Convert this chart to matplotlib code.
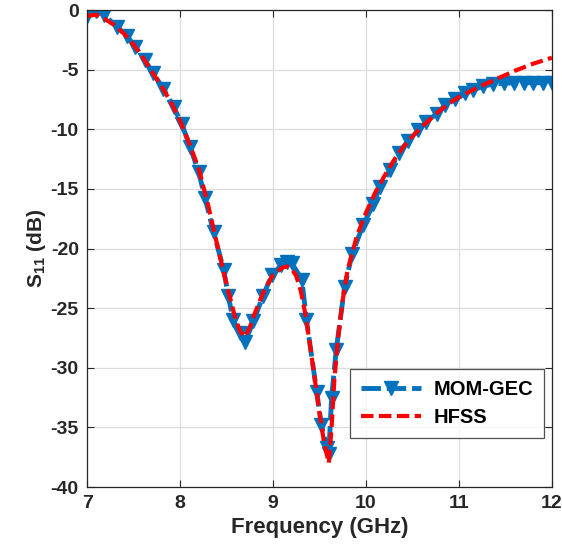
import matplotlib
matplotlib.use('Agg')
import matplotlib.pyplot as plt
import numpy as np

plt.rcParams['font.family'] = ['Liberation Sans', 'DejaVu Sans']
plt.rcParams['font.weight'] = 'bold'
plt.rcParams['axes.unicode_minus'] = False
plt.rcParams['mathtext.fontset'] = 'custom'
plt.rcParams['mathtext.rm'] = 'Liberation Sans:bold'
plt.rcParams['mathtext.bf'] = 'Liberation Sans:bold'
plt.rcParams['mathtext.it'] = 'Liberation Sans:bold'

## data
f_mom = [7.0, 7.1, 7.18, 7.32, 7.43, 7.52, 7.62, 7.71, 7.82, 7.93, 8.02, 8.11,
         8.20, 8.27, 8.36, 8.47, 8.52, 8.57, 8.65, 8.70, 8.79, 8.89, 8.99, 9.09,
         9.15, 9.20, 9.31, 9.36, 9.47, 9.52, 9.58, 9.60, 9.63, 9.68, 9.77, 9.85,
         9.97, 10.08, 10.15, 10.26, 10.35, 10.45, 10.56, 10.65, 10.76, 10.85,
         10.96, 11.07, 11.15, 11.26, 11.37, 11.48, 11.59, 11.70, 11.80, 11.90, 12.0]
s_mom = [-0.5, -0.1, -0.4, -1.4, -2.2, -3.1, -4.2, -5.3, -6.6, -8.1, -9.6, -11.5,
         -13.6, -15.8, -18.6, -21.8, -24.0, -26.0, -27.1, -27.8, -26.1, -24.0, -22.2, -21.4,
         -21.1, -21.2, -22.6, -26.0, -32.0, -34.8, -36.7, -37.2, -32.5, -28.5, -23.2, -20.5,
         -18.0, -16.3, -14.8, -13.4, -12.0, -11.0, -10.1, -9.4, -8.7, -8.0,
         -7.5, -7.0, -6.7, -6.4, -6.2, -6.15, -6.1, -6.1, -6.1, -6.1, -6.1]

f_hfss = [7.0, 7.1, 7.2, 7.3, 7.4, 7.5, 7.6, 7.7, 7.8, 7.9, 8.0, 8.1, 8.2, 8.3,
          8.4, 8.5, 8.6, 8.65, 8.7, 8.75, 8.8, 8.9, 9.0, 9.1, 9.15, 9.2, 9.25,
          9.3, 9.35, 9.4, 9.45, 9.5, 9.55, 9.6, 9.63, 9.66, 9.7, 9.75, 9.8, 9.9,
          10.0, 10.1, 10.2, 10.3, 10.4, 10.5, 10.6, 10.7, 10.8, 10.9, 11.0, 11.2,
          11.4, 11.6, 11.8, 12.0]
s_hfss = [-0.5, -0.4, -0.8, -1.3, -2.0, -2.9, -4.0, -5.2, -6.4, -7.7, -9.3, -11.2, -13.3, -16.3,
          -19.7, -23.0, -26.0, -27.0, -27.4, -26.6, -25.5, -23.6, -22.2, -21.6, -21.5, -21.7, -22.3,
          -23.6, -25.6, -28.2, -31.0, -33.8, -36.3, -38.0, -35.0, -31.0, -27.5, -24.3, -21.9, -19.0,
          -17.0, -15.3, -13.9, -12.6, -11.5, -10.6, -9.8, -9.1, -8.4, -7.8, -7.3, -6.5,
          -5.8, -5.1, -4.5, -4.0]

xticks = [7, 8, 9, 10, 11, 12]
yticks = [0, -5, -10, -15, -20, -25, -30, -35, -40]

## plot
fig = plt.figure(figsize=(5.62, 5.56), dpi=100)
ax = fig.add_axes([0.155, 0.124, 0.827, 0.858])

ax.plot(f_mom, s_mom, color='#0072BD', ls='--', lw=3.5, marker='v',
        ms=10, label='MOM-GEC', dashes=(4, 1.2))
ax.plot(f_hfss, s_hfss, color='#FF0000', ls='--', lw=3, label='HFSS', dashes=(3, 1.3))

ax.set_xlim(7, 12)
ax.set_ylim(-40, 0)
ax.set_xticks(xticks)
ax.set_yticks(yticks)
ax.tick_params(direction='in', top=True, right=True, labelsize=14, length=5,
               colors='#262626', pad=6)
for lbl in ax.get_xticklabels() + ax.get_yticklabels():
    lbl.set_fontweight('bold')
ax.grid(True, color='#dcdcdc', lw=0.9)
for sp in ax.spines.values():
    sp.set_color('#262626')
    sp.set_linewidth(0.9)

ax.set_xlabel('Frequency (GHz)', fontsize=16, fontweight='bold', color='#262626', labelpad=3)
ax.set_ylabel(r'S$_{11}$ (dB)', fontsize=15, fontweight='bold', color='#262626', labelpad=2)

leg = ax.legend(loc='lower right', bbox_to_anchor=(0.983, 0.103), borderaxespad=0,
                fontsize=14.5, frameon=True, fancybox=False, handlelength=3.0,
                borderpad=0.55, labelspacing=0.45, handletextpad=0.6, edgecolor='#262626')
leg.get_frame().set_linewidth(0.9)
for t in leg.get_texts():
    t.set_fontweight('bold')

fig.savefig('out.png', dpi=100)
